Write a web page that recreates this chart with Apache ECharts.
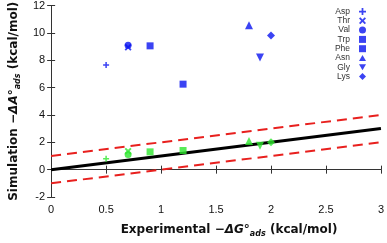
<!DOCTYPE html>
<html><head><meta charset="utf-8">
<script src="https://cdn.jsdelivr.net/npm/echarts@6/dist/echarts.min.js"></script>
<style>html,body{margin:0;padding:0;background:#fff}#c{width:387px;height:243px}</style>
</head><body><div id="c"></div>
<script>
const residues = ['Asp','Thr','Val','Trp','Phe','Asn','Gly','Lys'];
const expX = [0.5, 0.7, 0.7, 0.9, 1.2, 1.8, 1.9, 2.0];
const simBlue = [7.65, 8.95, 9.1, 9.05, 6.25, 10.55, 8.2, 9.8];
const simGreen = [0.8, 1.35, 1.1, 1.3, 1.4, 2.1, 1.75, 2.0];
const lineX = [0, 3];
const idealY = [0, 3];
const upperY = [1, 4];
const lowerY = [-1, 2];
const xTicks = ['0','0.5','1','1.5','2','2.5','3'];
const yTicks = ['-2','0','2','4','6','8','10','12'];

const symbols = [
  'path://M3,0H5V3H8V5H5V8H3V5H0V3H3Z',
  'path://M0,1.5L1.5,0L4,2.5L6.5,0L8,1.5L5.5,4L8,6.5L6.5,8L4,5.5L1.5,8L0,6.5L2.5,4Z',
  'circle','rect','rect',
  'path://M4,0L8,7H0Z',
  'path://M0,0H8L4,7Z',
  'diamond'
];
const sizes = [6,7,7,7,7,8,8,8];
const BLUE = '#0a14f0', GREEN = '#2ee62e', RED = '#e8201e';
const FF = 'DejaVu Sans';

const series = [];
series.push({type:'line', data: lineX.map((x,i)=>[x, upperY[i]]), symbol:'none', lineStyle:{color:RED,width:2,type:[10,6]}, z:1, silent:true});
series.push({type:'line', data: lineX.map((x,i)=>[x, lowerY[i]]), symbol:'none', lineStyle:{color:RED,width:2,type:[10,6]}, z:1, silent:true});
series.push({type:'line', data: lineX.map((x,i)=>[x, idealY[i]]), symbol:'none', lineStyle:{color:'#000',width:3}, z:2, silent:true});
residues.forEach((r,i)=>{
  series.push({name:r, type:'scatter', data:[[expX[i], simBlue[i]]], symbol:symbols[i], symbolSize:sizes[i], itemStyle:{color:BLUE}, z:5});
  series.push({name:r+'_sim', type:'scatter', data:[[expX[i], simGreen[i]]], symbol:symbols[i], symbolSize:sizes[i], itemStyle:{color:GREEN}, z:5});
});

const tickStyle = {inside:true, length:4, lineStyle:{color:'#333'}};
const lineSt = {lineStyle:{color:'#333', width:1}};
const rich = {
  n:{fontSize:12, fontWeight:'bold', fontFamily:FF, color:'#111', lineHeight:16},
  i:{fontSize:12, fontWeight:'bold', fontStyle:'italic', fontFamily:FF, color:'#111', lineHeight:16},
  s:{fontSize:8, fontWeight:'bold', fontStyle:'italic', fontFamily:FF, color:'#111', verticalAlign:'bottom', lineHeight:16, padding:[5,0,0,0]}
};
const option = {
  animation:false,
  grid:{left:42, right:5, top:3, bottom:43, containLabel:false},
  legend:{
    data: residues, orient:'vertical', right:16, top:2, align:'right',
    itemWidth:7, itemHeight:7, itemGap:0.3,
    textStyle:{fontSize:8.5, fontFamily:'Liberation Sans', color:'#333', padding:[0,4,0,0]},
    selectedMode:false
  },
  xAxis:[{
    type:'value', min:0, max:3, interval:0.5, position:'bottom',
    axisLine:lineSt, axisTick:tickStyle, splitLine:{show:false},
    axisLabel:{fontSize:11, fontFamily:'Liberation Sans', color:'#111', margin:7, formatter:(v)=>xTicks[Math.round(v*2)]},
    name:'{n|Experimental \u2212}{i|\u0394G°}{s|ads}{n| (kcal/mol)}',
    nameLocation:'middle', nameGap:25,
    nameTextStyle:{padding:[0,0,0,26], rich:rich}
  },{
    type:'value', min:0, max:3, interval:0.5, position:'top',
    axisLine:lineSt, axisTick:tickStyle, axisLabel:{show:false}, splitLine:{show:false}
  }],
  yAxis:[{
    type:'value', min:-2, max:12, interval:2, position:'left',
    axisLine:lineSt, axisTick:tickStyle, splitLine:{show:false},
    axisLabel:{fontSize:11, fontFamily:'Liberation Sans', color:'#111', margin:6, formatter:(v)=>yTicks[(v+2)/2]},
    name:'{n|Simulation \u2212}{i|\u0394A°}{s|ads}{n| (kcal/mol)}',
    nameLocation:'middle', nameGap:23, nameRotate:90,
    nameTextStyle:{padding:[0,0,0,0], rich:rich}
  },{
    type:'value', min:-2, max:12, interval:2, position:'right',
    axisLine:lineSt, axisTick:tickStyle, axisLabel:{show:false}, splitLine:{show:false}
  }],
  series: series
};
const chart = echarts.init(document.getElementById('c'), null, {renderer:'canvas'});
chart.setOption(option);
</script></body></html>
